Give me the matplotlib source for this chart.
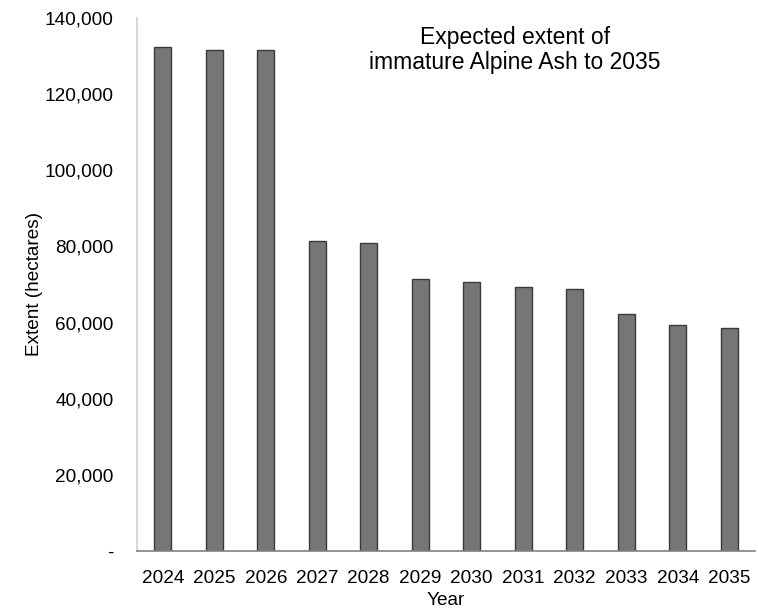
import matplotlib.pyplot as plt
from matplotlib.ticker import FuncFormatter

plt.rcParams['font.family'] = ['Liberation Sans', 'DejaVu Sans']

years = ['2024', '2025', '2026', '2027', '2028', '2029',
         '2030', '2031', '2032', '2033', '2034', '2035']
extent = [132500, 131700, 131500, 81500, 80900, 71500,
          70600, 69300, 68700, 62300, 59400, 58600]


def fmt(v, pos):
    if v == 0:
        return '-'
    return '{:,.0f}'.format(v)


fig = plt.figure(figsize=(7.58, 6.09), dpi=100)
ax = fig.add_axes([137 / 758, 1 - 551 / 609, 618 / 758, 533 / 609])

ax.bar(range(len(years)), extent, width=0.33, color='#767676',
       edgecolor='#3a3a3a', linewidth=1.0)

ax.set_xlim(-0.5, len(years) - 0.5)
ax.set_ylim(0, 140000)
ax.set_yticks(range(0, 140001, 20000))
ax.yaxis.set_major_formatter(FuncFormatter(fmt))
ax.set_xticks(range(len(years)))
ax.set_xticklabels(years)

for s in ['top', 'right']:
    ax.spines[s].set_visible(False)
ax.spines['left'].set_color('#d0d0d0')
ax.spines['left'].set_linewidth(1.2)
ax.spines['bottom'].set_color('#808080')
ax.spines['bottom'].set_linewidth(1.2)
ax.tick_params(axis='both', length=0, labelsize=13.7, colors='black')
ax.tick_params(axis='y', pad=17)
ax.tick_params(axis='x', pad=14)

ax.set_xlabel('Year', fontsize=13.7, labelpad=3)
ax.set_ylabel('Extent (hectares)', fontsize=13.7, labelpad=1)

fig.text(515 / 758, 1 - 50 / 609, 'Expected extent of\nimmature Alpine Ash to 2035',
         ha='center', va='center', fontsize=16.5, linespacing=1.1)

fig.savefig('out.png', dpi=100)
